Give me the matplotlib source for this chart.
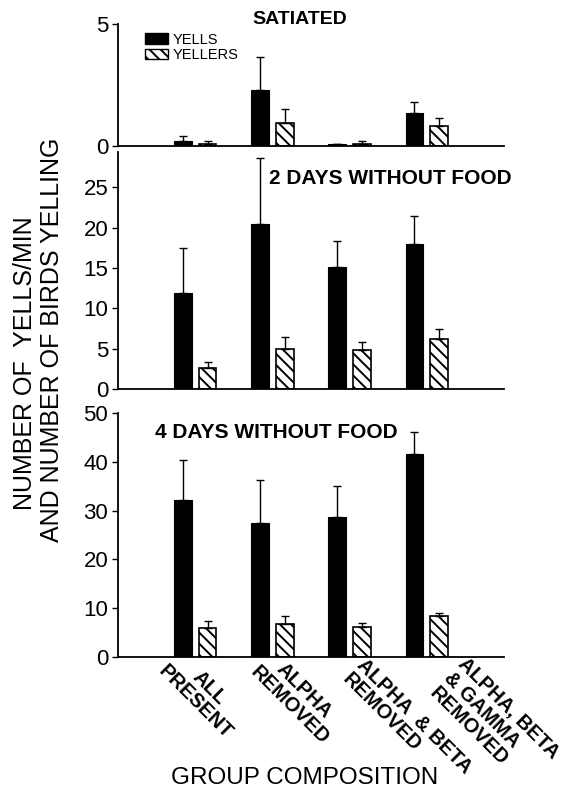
import numpy as np
import matplotlib
matplotlib.use('Agg')
import matplotlib.pyplot as plt
from matplotlib.patches import Patch

# 组别（横轴）
groups = ['ALL\nPRESENT', 'ALPHA\nREMOVED', 'ALPHA  & BETA\nREMOVED',
          'ALPHA, BETA\n& GAMMA\nREMOVED']

# 饱食
sat_yells = [0.22, 2.3, 0.08, 1.34]
sat_yells_err = [0.19, 1.33, 0.0, 0.48]
sat_yellers = [0.10, 0.93, 0.10, 0.81]
sat_yellers_err = [0.12, 0.57, 0.12, 0.33]

# 2天无食物
d2_yells = [11.85, 20.5, 15.1, 18.0]
d2_yells_err = [5.65, 8.1, 3.3, 3.5]
d2_yellers = [2.6, 4.9, 4.85, 6.25]
d2_yellers_err = [0.8, 1.55, 1.0, 1.15]

# 4天无食物
d4_yells = [32.2, 27.5, 28.7, 41.7]
d4_yells_err = [8.2, 8.8, 6.4, 4.5]
d4_yellers = [5.9, 6.8, 6.15, 8.5]
d4_yellers_err = [1.5, 1.7, 0.85, 0.5]

plt.rcParams['font.family'] = ['Liberation Sans', 'DejaVu Sans']
plt.rcParams['hatch.linewidth'] = 1.4

W, H = 574, 789
fig = plt.figure(figsize=(W / 100, H / 100), dpi=100)


def px_axes(left, right, top, bottom):
    # 像素坐标 -> figure 坐标
    return fig.add_axes([left / W, 1 - bottom / H, (right - left) / W, (bottom - top) / H])


x = np.arange(len(groups))
off = 0.16
bw = 0.23


def draw_panel(ax, yells, yells_err, yellers, yellers_err, ylim, yticks):
    z = np.zeros(len(x))
    ax.bar(x - off, yells, bw, color='black', edgecolor='black', linewidth=0.8)
    ax.bar(x + off, yellers, bw, color='white', edgecolor='black', hatch='\\\\\\', linewidth=1.2)
    ax.errorbar(x - off, yells, yerr=[z, yells_err], fmt='none', ecolor='black',
                elinewidth=1.0, capsize=3, capthick=1.0)
    ax.errorbar(x + off, yellers, yerr=[z, yellers_err], fmt='none', ecolor='black',
                elinewidth=1.0, capsize=3, capthick=1.0)
    ax.set_xlim(-1, 4)
    ax.set_ylim(*ylim)
    ax.set_yticks(yticks)
    ax.set_xticks([])
    for s in ['top', 'right']:
        ax.spines[s].set_visible(False)
    for s in ['left', 'bottom']:
        ax.spines[s].set_linewidth(1.3)
    ax.tick_params(axis='y', direction='out', length=4, width=1.0, labelsize=16, pad=3)


ax1 = px_axes(118, 504, 24, 146)
draw_panel(ax1, sat_yells, sat_yells_err, sat_yellers, sat_yellers_err, (0, 5), [0, 5])

ax2 = px_axes(118, 504, 152, 389)
draw_panel(ax2, d2_yells, d2_yells_err, d2_yellers, d2_yellers_err, (0, 29.4), [0, 5, 10, 15, 20, 25])

ax3 = px_axes(118, 504, 413, 657)
draw_panel(ax3, d4_yells, d4_yells_err, d4_yellers, d4_yellers_err, (0, 50), [0, 10, 20, 30, 40, 50])

# 图例
handles = [Patch(facecolor='black', edgecolor='black'),
           Patch(facecolor='white', edgecolor='black', hatch='\\\\\\')]
ax1.legend(handles, ['YELLS', 'YELLERS'], loc='upper left', bbox_to_anchor=(0.07, 0.93),
           frameon=False, fontsize=10.5, handlelength=1.6, handleheight=0.7,
           labelspacing=0.1, handletextpad=0.3, borderpad=0, borderaxespad=0)

# 面板标题
fig.text(300 / W, 1 - 19 / H, 'SATIATED', ha='center', va='center', fontsize=14, fontweight='bold')
fig.text(269 / W, 1 - 179 / H, '2 DAYS WITHOUT FOOD', ha='left', va='center', fontsize=15, fontweight='bold')
fig.text(155 / W, 1 - 432 / H, '4 DAYS WITHOUT FOOD', ha='left', va='center', fontsize=15, fontweight='bold')

# 横轴组别标签（旋转），锚点为像素位置
label_pos = [(216, 681), (311, 684), (367, 655), (468, 654)]
label_ha = ['center', 'center', 'left', 'left']
for lab, (px, py), ha in zip(groups, label_pos, label_ha):
    fig.text(px / W, 1 - py / H, lab, rotation=-45, rotation_mode='anchor',
             ha=ha, va='top', multialignment=ha, fontsize=14.5, fontweight='bold',
             linespacing=1.1)

fig.text(305 / W, 1 - 778 / H, 'GROUP COMPOSITION', ha='center', va='center', fontsize=17.5)

# 纵轴标题（两行分开放置）
fig.text(25 / W, 1 - 363 / H, 'NUMBER OF  YELLS/MIN', ha='center', va='center',
         rotation=90, fontsize=18)
fig.text(52 / W, 1 - 340 / H, 'AND NUMBER OF BIRDS YELLING', ha='center', va='center',
         rotation=90, fontsize=18)

plt.savefig('out.png', dpi=100)
print('saved out.png')
